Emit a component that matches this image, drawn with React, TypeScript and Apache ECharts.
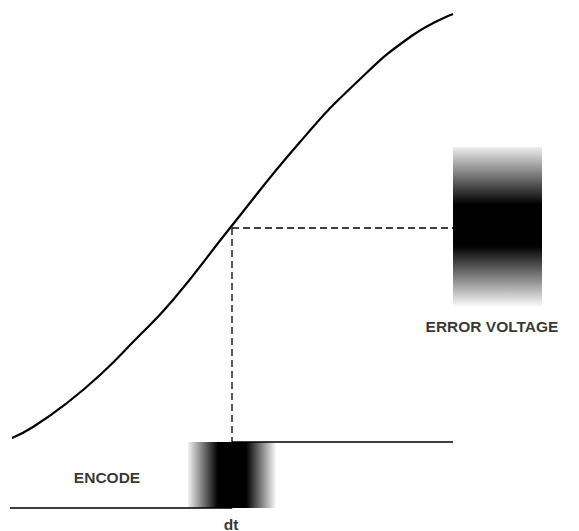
import React, { useEffect, useRef } from "react";
import * as echarts from "echarts";

// Transfer curve (time axis -> voltage axis, screen-like units, y grows downward)
const curveX = [12, 33, 67, 100, 133, 173, 230, 300, 357, 413, 453];
const curveY = [438, 427, 403, 375, 342, 300, 228, 142, 82, 35, 14];

// Sample point (where dt maps to dV)
const sampleX = 232;
const sampleY = 228;

// Encode step signal
const stepX = [10, 232, 232, 453];
const stepY = [508, 508, 442, 442];

// Horizontal dashed projection end
const dashEndX = 453;
// Vertical dashed projection end
const dashEndY = 442;

// Uncertainty blocks [x0, x1, y0, y1]
const encodeBlock = [188, 276, 442, 508];
const errorBlock = [453, 542, 147, 307];

// Labels
const labelText = ["dV", "ERROR VOLTAGE", "ENCODE", "dt"];
const labelX = [512, 492, 107, 231];
const labelY = [228, 326, 477, 524];

export default function App() {
  const ref = useRef<HTMLDivElement>(null);
  useEffect(() => {
    document.body.style.margin = "0";
    const chart = echarts.init(ref.current!, null, { renderer: "svg" });
    const curve = curveX.map((x, i) => [x, curveY[i]]);
    const step = stepX.map((x, i) => [x, stepY[i]]);
    const blockItem = (horizontal: boolean) => (params: any, api: any) => {
      const p0 = api.coord([api.value(0), api.value(2)]);
      const p1 = api.coord([api.value(1), api.value(3)]);
      const grad = horizontal
        ? new echarts.graphic.LinearGradient(0, 0, 1, 0, [
            { offset: 0, color: "#f2f2f2" },
            { offset: 0.34, color: "#000000" },
            { offset: 0.66, color: "#000000" },
            { offset: 1, color: "#fbfbfb" },
          ])
        : new echarts.graphic.LinearGradient(0, 0, 0, 1, [
            { offset: 0, color: "#eeeeee" },
            { offset: 0.36, color: "#000000" },
            { offset: 0.62, color: "#000000" },
            { offset: 1, color: "#fdfdfd" },
          ]);
      return {
        type: "rect",
        shape: {
          x: Math.min(p0[0], p1[0]),
          y: Math.min(p0[1], p1[1]),
          width: Math.abs(p1[0] - p0[0]),
          height: Math.abs(p1[1] - p0[1]),
        },
        style: { fill: grad },
      };
    };
    chart.setOption({
      animation: false,
      backgroundColor: "#ffffff",
      grid: { left: 0, right: 0, top: 0, bottom: 0 },
      xAxis: { type: "value", min: 0, max: 579, show: false },
      yAxis: { type: "value", min: 0, max: 531, inverse: true, show: false },
      series: [
        {
          type: "custom",
          renderItem: blockItem(true),
          data: [encodeBlock],
          z: 1,
          silent: true,
        },
        {
          type: "custom",
          renderItem: blockItem(false),
          data: [errorBlock],
          z: 1,
          silent: true,
        },
        {
          type: "line",
          data: step,
          symbol: "none",
          lineStyle: { color: "#000", width: 1.3 },
          z: 3,
        },
        {
          type: "line",
          data: [
            [sampleX, sampleY],
            [dashEndX, sampleY],
          ],
          symbol: "none",
          lineStyle: { color: "#000", width: 1.3, type: [7, 4] },
          z: 3,
        },
        {
          type: "line",
          data: [
            [sampleX, sampleY],
            [sampleX, dashEndY],
          ],
          symbol: "none",
          lineStyle: { color: "#000", width: 1.3, type: [7, 4] },
          z: 3,
        },
        {
          type: "line",
          data: curve,
          smooth: true,
          symbol: "none",
          lineStyle: { color: "#000", width: 2.2 },
          z: 4,
        },
        {
          type: "scatter",
          symbolSize: 0,
          data: labelText.map((t, i) => ({ value: [labelX[i], labelY[i]], name: t })),
          label: {
            show: true,
            position: "inside",
            formatter: (p: any) => p.name,
            color: "#000",
            fontFamily: "Liberation Sans, Arial, sans-serif",
            fontWeight: "bold",
            fontSize: 15.5,
          },
          z: 5,
        },
      ],
    });
    return () => chart.dispose();
  }, []);
  return <div ref={ref} style={{ width: 579, height: 531 }} />;
}
